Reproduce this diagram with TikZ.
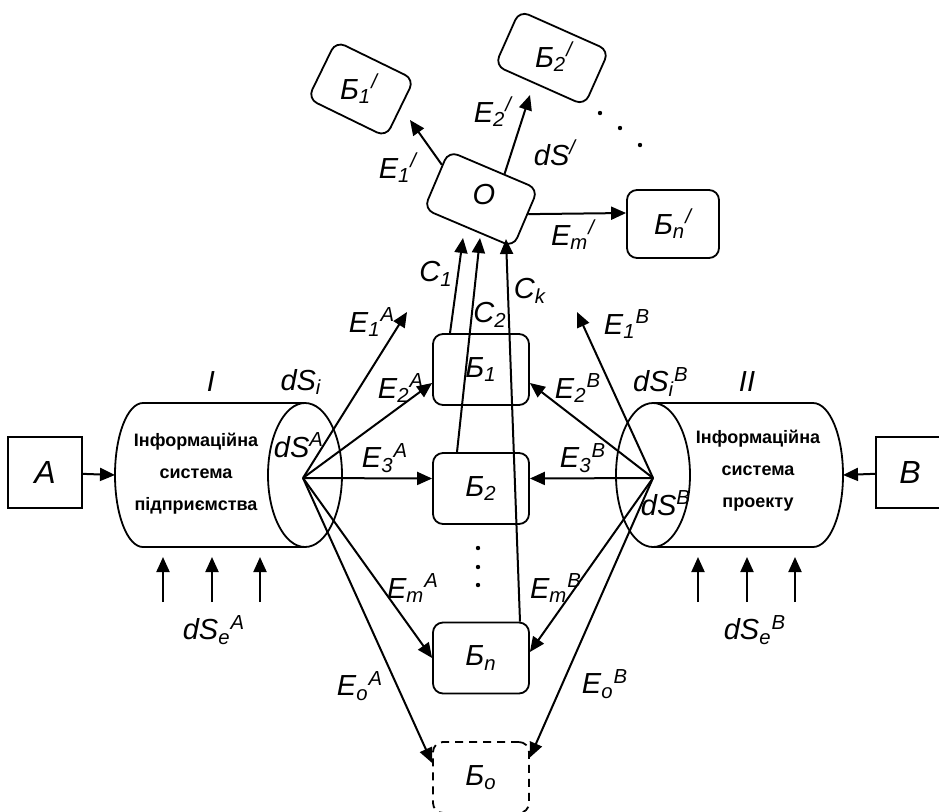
\documentclass[tikz,border=0pt]{standalone}
\usepackage{fontspec}
\setmainfont{Liberation Sans}
\usetikzlibrary{arrows.meta,calc}
\tikzset{every node/.style={align=center}, >={Triangle[length=7.5pt,width=6.5pt]},
  blk/.style={draw, rounded corners=5pt, minimum width=48pt, minimum height=35.5pt, line width=0.9pt, font=\fontsize{14.5}{16}\selectfont\itshape},
  sq/.style={draw, minimum width=37pt, minimum height=35.5pt, line width=0.9pt, font=\fontsize{16}{18}\selectfont\itshape},
  lbl/.style={font=\fontsize{14.5}{16}\selectfont\itshape, inner sep=0pt},
  systxt/.style={font=\fontsize{9}{16}\selectfont\bfseries},
  conn/.style={->, line width=1pt}}

\begin{document}
\begin{tikzpicture}[x=0.5pt,y=-0.5pt]
\useasboundingbox (0,0) rectangle (939,811);
\clip (0,0) rectangle (939,811);

% sources A and B
\node[sq] (a) at (45,472.5) {A};
\node[sq, minimum width=34pt] (b) at (910,472.5) {B};

% cylinder I
\draw[line width=0.9pt] (143,403) -- (305,403) (143,547) -- (305,547);
\draw[line width=0.9pt] (143,403) arc (270:90:28 and 72);
\draw[line width=0.9pt] (305,475) ellipse [x radius=37, y radius=72];
\node[systxt] (sa) at (196,474) {Інформаційна\\система\\підприємства};
% cylinder II
\draw[line width=0.9pt] (653,403) -- (813,403) (653,547) -- (813,547);
\draw[line width=0.9pt] (813,403) arc (-90:90:30 and 72);
\draw[line width=0.9pt] (653,475) ellipse [x radius=37, y radius=72];
\node[systxt] (sb) at (758,471) {Інформаційна\\система\\проекту};

\coordinate (ina) at (115,475);
\coordinate (inb) at (843,475);
\draw[conn] (a) -- (ina);
\draw[conn] (b) -- (inb);
\foreach \x in {163,212,260,698,747,795}
  \draw[conn] (\x,602) -- (\x,557);

% blocks
\node[blk] (b1) at (481,369.5) {Б\textsubscript{1}};
\node[blk] (b2) [below of=b1, node distance=59.5pt] {Б\textsubscript{2}};
\node[blk] (bn) [below of=b2, node distance=84.75pt] {Б\textsubscript{n}};
\node[blk, dashed, dash pattern=on 4pt off 3pt] (bo) [below of=bn, node distance=59.75pt] {Б\textsubscript{o}};
\foreach \y in {548,567,585}
  \fill (478,\y) circle (2.2);

% fans
\coordinate (fa) at (303,478);
\coordinate (fb) at (653,478);
\coordinate (e1a) at (407,312);
\coordinate (e1b) at (577,312);
\path[conn] (fa) edge (e1a)
    edge ([yshift=-6.75pt]b1.west)
    edge ([yshift=5pt]b2.west)
    edge (bn.west)
    edge ([yshift=7.25pt]bo.west);
\path[conn] (fb) edge (e1b)
    edge ([yshift=-6.75pt]b1.east)
    edge ([yshift=5pt]b2.east)
    edge ([yshift=3pt]bn.east)
    edge ([yshift=10pt]bo.east);

% O and its outputs
\node[blk, minimum width=48.5pt, minimum height=31.5pt, rotate=-23] (o) at (481,199) {};
\node[lbl] (ot) at (484,195) {O};
\node[blk, minimum width=43.5pt, minimum height=32pt, rotate=-26] (b1p) at (361,89) {};
\node[lbl] (b1pt) at (359,89) {Б\textsubscript{1}\textsuperscript{/}};
\node[blk, minimum width=49pt, minimum height=30pt, rotate=-24] (b2p) at (552,58) {};
\node[lbl] (b2pt) at (554,57) {Б\textsubscript{2}\textsuperscript{/}};
\node[blk, minimum width=46pt, minimum height=34pt] (bnp) at (673,224) {Б\textsubscript{n}\textsuperscript{/}};
\foreach \x/\y in {600/113,620/128,640/145}
  \fill (\x,\y) circle (2.2);

\coordinate (c1) at (463,238);
\coordinate (c2) at (480,238);
\coordinate (ck) at (506,239);
\path[conn] ([xshift=-15.5pt]b1.north) edge (c1)
    ([xshift=-12pt]b2.north) edge (c2)
    ([xshift=19.5pt]bn.north) edge (ck);

\coordinate (e1p) at (410,120);
\coordinate (e2p) at (530,95);
\draw[conn] ($(o.north west)!0.25!(o.south west)$) -- (e1p);
\draw[conn] ($(o.north west)!0.62!(o.north east)$) -- (e2p);
\draw[conn] ($(o.north east)!0.43!(o.south east)$) -- ([yshift=5.5pt]bnp.west);

% labels
\node[lbl] (li) at (211,382) {I};
\node[lbl] (ldsi) at (301,382) {dS\textsubscript{i}};
\node[lbl] (ldsib) at (661,382) {dS\textsubscript{i}\textsuperscript{B}};
\node[lbl] (lii) at (747,382) {II};
\node[lbl] (ldsa) at (299,445) {dS\textsuperscript{A}};
\node[lbl] (ldsb) at (666,503) {dS\textsuperscript{B}};
\node[lbl] (ldsea) at (214,630) {dS\textsubscript{e}\textsuperscript{A}};
\node[lbl] (ldseb) at (755,630) {dS\textsubscript{e}\textsuperscript{B}};
\node[lbl] (le1a) at (372,322) {E\textsubscript{1}\textsuperscript{A}};
\node[lbl] (le2a) at (401,388) {E\textsubscript{2}\textsuperscript{A}};
\node[lbl] (le3a) at (385,458) {E\textsubscript{3}\textsuperscript{A}};
\node[lbl] (lema) at (413,588) {E\textsubscript{m}\textsuperscript{A}};
\node[lbl] (leoa) at (360,686) {E\textsubscript{o}\textsuperscript{A}};
\node[lbl] (le1b) at (627,324) {E\textsubscript{1}\textsuperscript{B}};
\node[lbl] (le2b) at (578,388) {E\textsubscript{2}\textsuperscript{B}};
\node[lbl] (le3b) at (583,458) {E\textsubscript{3}\textsuperscript{B}};
\node[lbl] (lemb) at (556,588) {E\textsubscript{m}\textsuperscript{B}};
\node[lbl] (leob) at (605,684) {E\textsubscript{o}\textsuperscript{B}};
\node[lbl] (lc1) at (436,274) {C\textsubscript{1}};
\node[lbl] (lc2) at (490,315) {C\textsubscript{2}};
\node[lbl] (lck) at (530,291) {C\textsubscript{k}};
\node[lbl] (le1p) at (398,168) {E\textsubscript{1}\textsuperscript{/}};
\node[lbl] (le2p) at (493,112) {E\textsubscript{2}\textsuperscript{/}};
\node[lbl] (ldsp) at (555,153) {dS\textsuperscript{/}};
\node[lbl] (lemp) at (573,235) {E\textsubscript{m}\textsuperscript{/}};
\end{tikzpicture}
\end{document}
